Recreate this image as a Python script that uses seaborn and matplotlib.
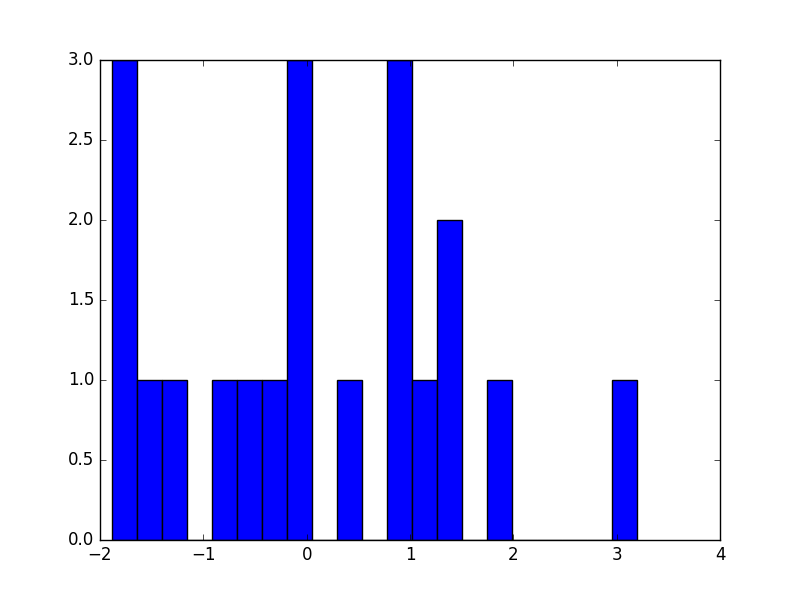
import numpy as np
import pandas as pd
import matplotlib
matplotlib.use("Agg")
import matplotlib.pyplot as plt
import seaborn as sns

# Histogram bins and counts
bin_start = -1.888
bin_stop = 3.193
n_bins = 21
counts = [3, 1, 1, 0, 1, 1, 1, 3, 0, 1, 0, 3, 1, 2, 0, 1, 0, 0, 0, 0, 1]
x_ticks = [-2, -1, 0, 1, 2, 3, 4]
y_ticks = [0.0, 0.5, 1.0, 1.5, 2.0, 2.5, 3.0]

edges = np.linspace(bin_start, bin_stop, n_bins + 1)
centers = (edges[:-1] + edges[1:]) / 2
df = pd.DataFrame({"v": centers, "w": counts})

plt.style.use("classic")
plt.rcParams["font.family"] = ["DejaVu Sans"]
fig = plt.figure(figsize=(8, 6), dpi=100, facecolor="white")
ax = fig.add_axes([0.125, 0.1, 0.775, 0.8])
sns.histplot(data=df, x="v", weights="w", bins=list(edges), color="blue",
             edgecolor="black", linewidth=1, alpha=1, ax=ax)
ax.set_xlim(-2, 4)
ax.set_ylim(0, 3)
ax.set_xticks(x_ticks)
ax.set_yticks(y_ticks)
ax.set_yticklabels([f"{v:.1f}" for v in y_ticks])
ax.set_xlabel("")
ax.set_ylabel("")
ax.tick_params(direction="in", top=True, right=True, labelsize=12)
fig.savefig("out.png", dpi=100, facecolor="white")
